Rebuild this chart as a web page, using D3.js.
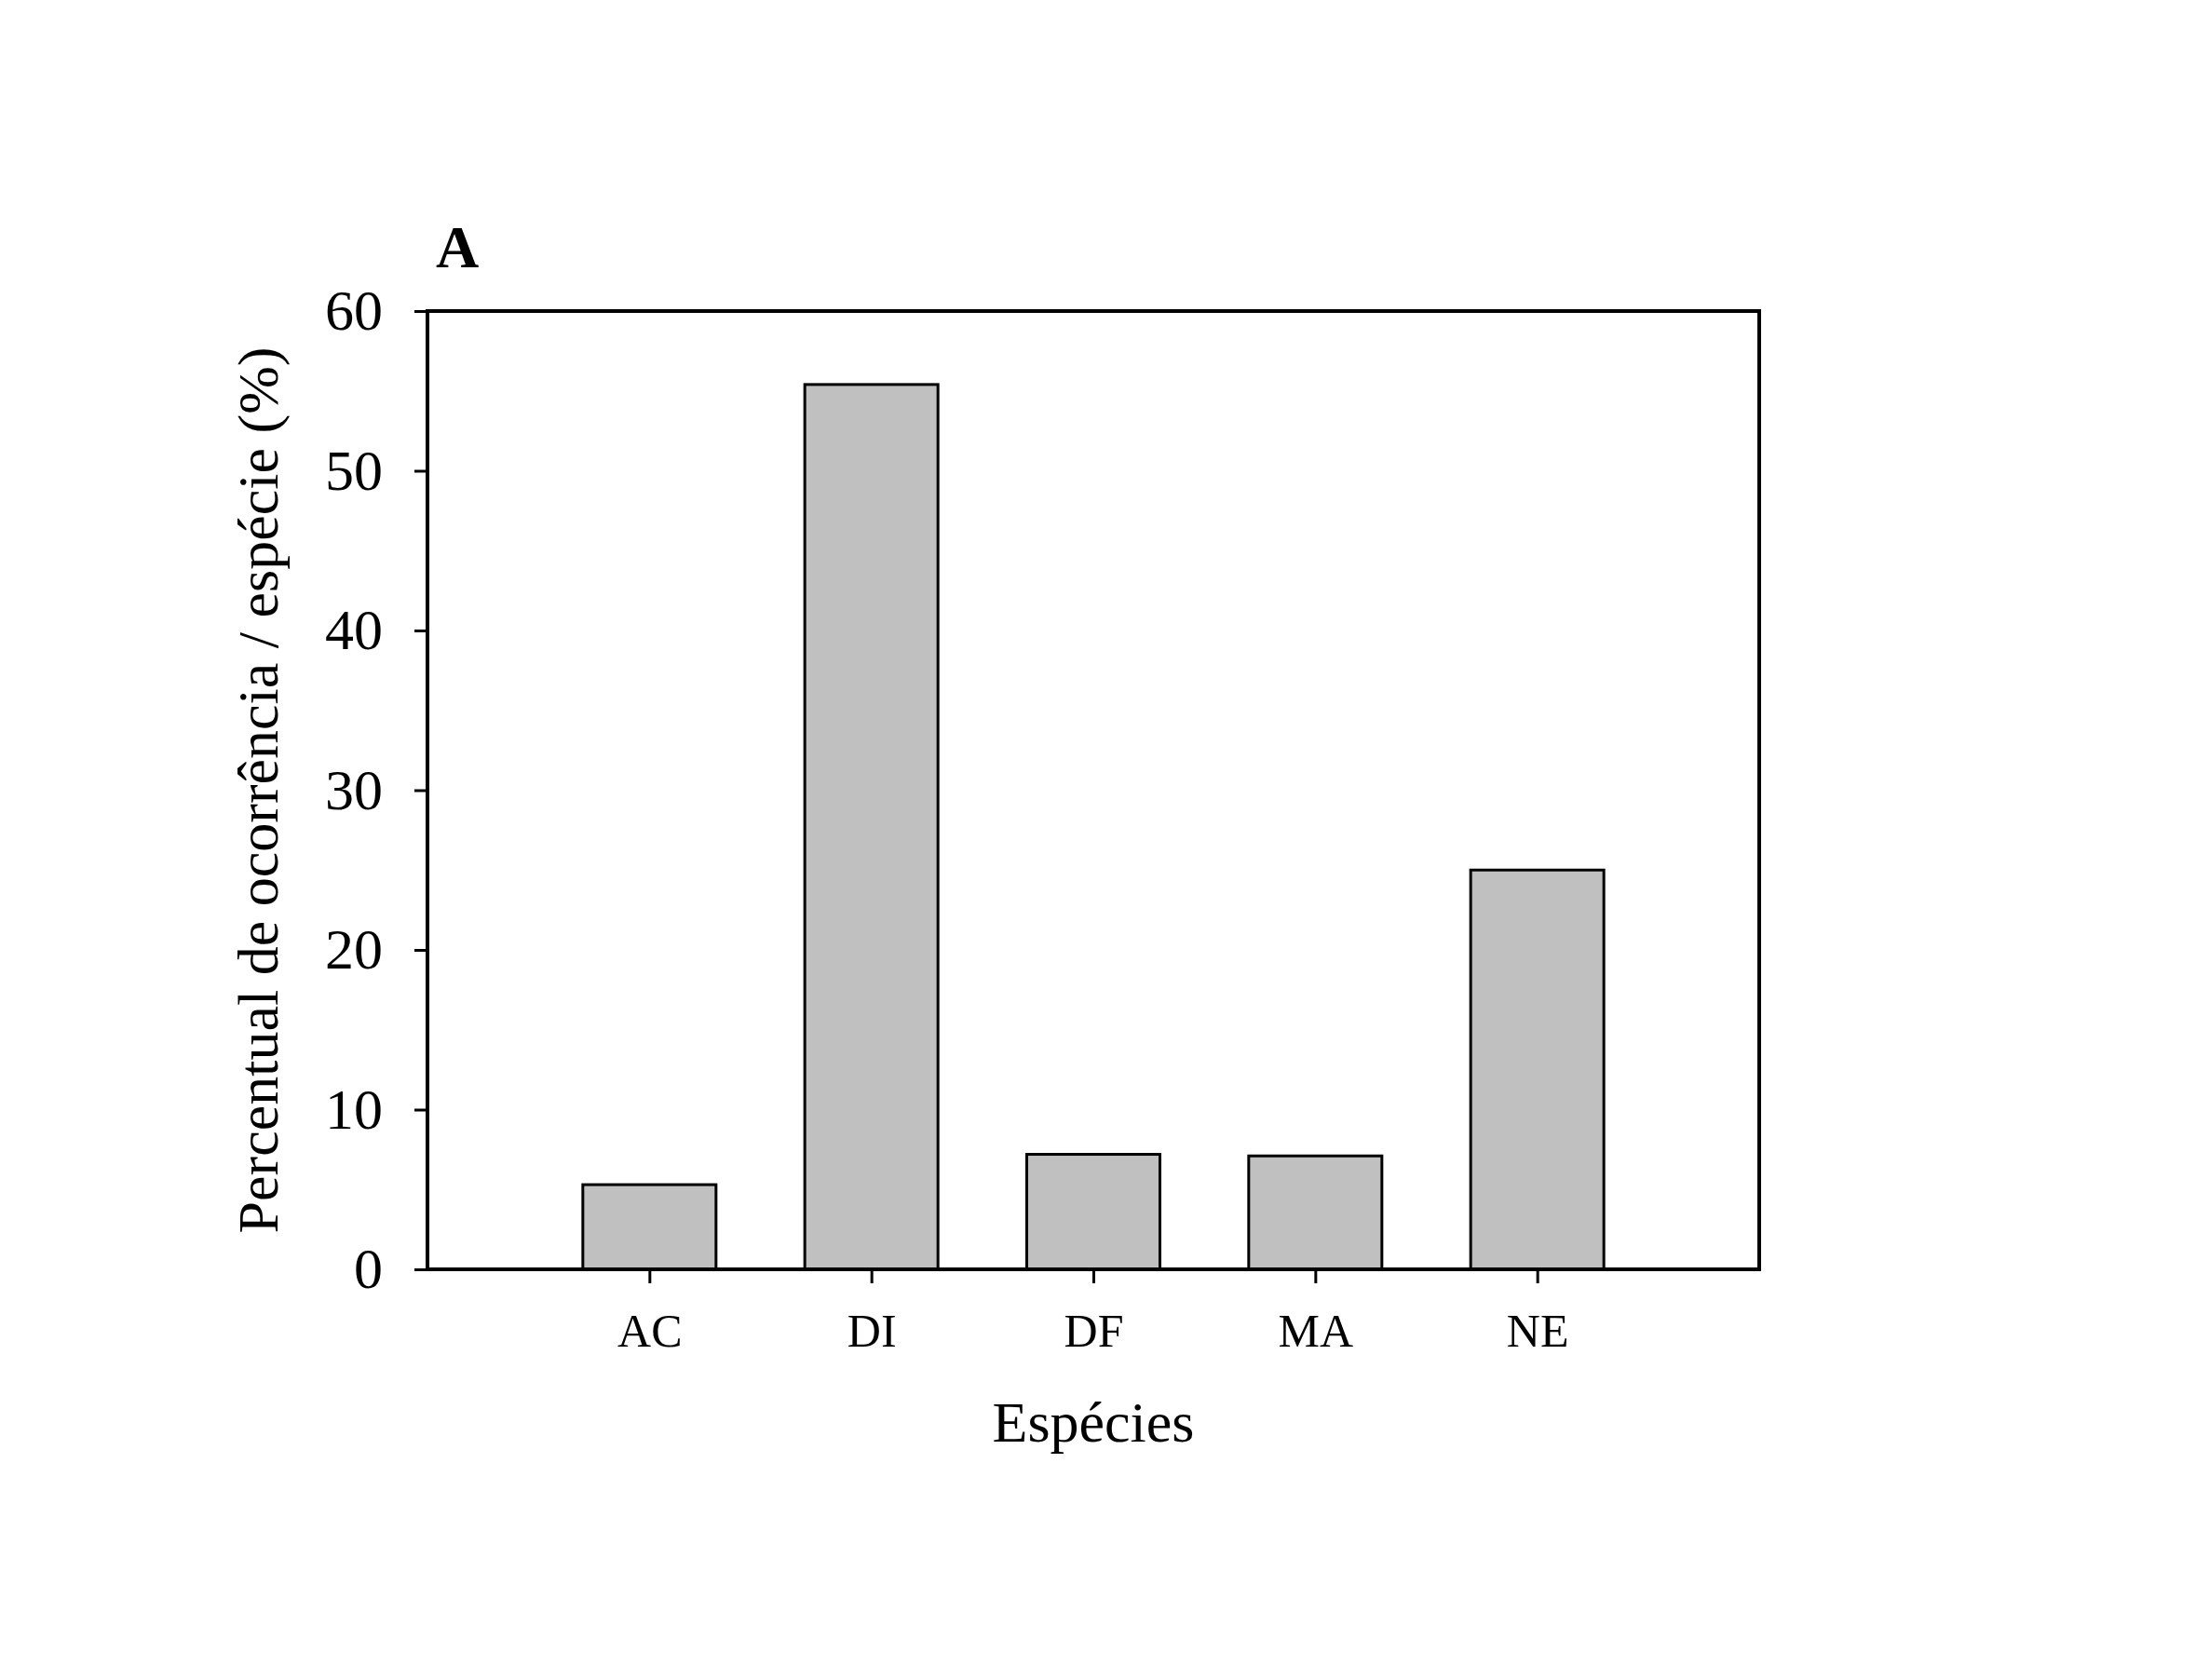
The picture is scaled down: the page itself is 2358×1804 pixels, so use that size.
<!DOCTYPE html>
<html>
<head>
<meta charset="utf-8">
<script src="https://cdn.jsdelivr.net/npm/d3@7"></script>
<style>
  html, body { margin: 0; padding: 0; background: #fff; }
  svg { display: block; }
  text { font-family: "Liberation Serif", "Times New Roman", serif; fill: #000; }
</style>
</head>
<body>
<svg id="chart" width="2358" height="1804"></svg>
<script>
const categories = ["AC", "DI", "DF", "MA", "NE"];
const values = [5.3, 55.4, 7.2, 7.1, 25.0];
const yTicks = [0, 10, 20, 30, 40, 50, 60];
const xTitle = "Espécies";
const yTitle = "Percentual de ocorrência / espécie (%)";
const panelLabel = "A";

(function () {
const svg = d3.select("#chart");
const pLeft = 459, pRight = 1889, pTop = 334, pBottom = 1363;

const x = d3.scalePoint().domain(categories).range([pLeft, pRight]).padding(1);
const y = d3.scaleLinear().domain([0, 60]).range([pBottom, pTop]);
const barW = x.step() * 0.6;

// bars
svg.append("g").selectAll("rect").data(categories).join("rect")
  .attr("x", d => x(d) - barW / 2)
  .attr("y", (d, i) => y(values[i]))
  .attr("width", barW)
  .attr("height", (d, i) => y(0) - y(values[i]))
  .attr("fill", "#c0c0c0")
  .attr("stroke", "#000")
  .attr("stroke-width", 3);

// frame
svg.append("rect")
  .attr("x", pLeft).attr("y", pTop)
  .attr("width", pRight - pLeft).attr("height", pBottom - pTop)
  .attr("fill", "none").attr("stroke", "#000").attr("stroke-width", 4);

// y axis
const yAxis = d3.axisLeft(y).tickValues(yTicks).tickSize(14).tickPadding(34).tickFormat(d3.format("d"));
const gy = svg.append("g").attr("transform", `translate(${pLeft},0)`).call(yAxis);
gy.select(".domain").remove();
gy.selectAll(".tick line").attr("stroke", "#000").attr("stroke-width", 3);
gy.selectAll(".tick text")
  .attr("font-family", "Liberation Serif, serif")
  .attr("font-size", 62).attr("fill", "#000").attr("dy", "0.32em");

// x axis
const xAxis = d3.axisBottom(x).tickSize(15).tickPadding(32);
const gx = svg.append("g").attr("transform", `translate(0,${pBottom})`).call(xAxis);
gx.select(".domain").remove();
gx.selectAll(".tick line").attr("stroke", "#000").attr("stroke-width", 3);
gx.selectAll(".tick text")
  .attr("font-family", "Liberation Serif, serif")
  .attr("font-size", 50).attr("fill", "#000").attr("dy", "0.71em");

// titles
svg.append("text")
  .attr("x", (pLeft + pRight) / 2).attr("y", 1548)
  .attr("text-anchor", "middle").attr("font-size", 62)
  .text(xTitle);

svg.append("text")
  .attr("transform", `translate(298,${(pTop + pBottom) / 2}) rotate(-90)`)
  .attr("text-anchor", "middle").attr("font-size", 62)
  .text(yTitle);

svg.append("text")
  .attr("x", 468).attr("y", 287)
  .attr("font-size", 64).attr("font-weight", "bold")
  .text(panelLabel);
})();
</script>
</body>
</html>
